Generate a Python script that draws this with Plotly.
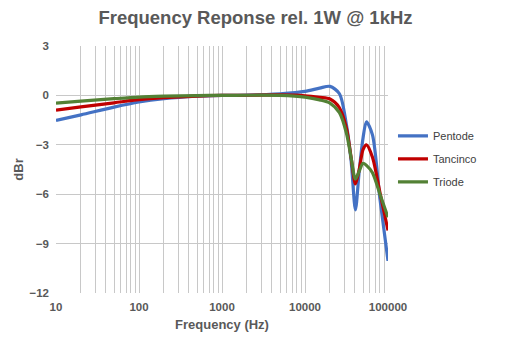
import plotly.graph_objects as go

# Frequency points (Hz) and level relative to 1 W @ 1 kHz (dBr)
freq_hz = [10, 20, 50, 100, 200, 500, 1000, 2000, 5000, 10000, 15000, 20000,
           26000, 31600, 36000, 40500, 45000, 50000, 55000, 65000, 80000, 100000]
pentode = [-1.52, -1.18, -0.71, -0.40, -0.20, -0.05, 0.0, 0.02, 0.10, 0.24, 0.44, 0.55,
           0.10, -1.8, -4.0, -6.95, -4.6, -2.6, -1.6, -2.4, -6.3, -10.05]
tancinco = [-0.90, -0.70, -0.45, -0.26, -0.14, -0.04, 0.0, 0.01, 0.03, -0.02, -0.12, -0.22,
            -0.75, -2.0, -3.8, -5.38, -4.5, -3.3, -3.0, -3.75, -5.9, -8.2]
triode = [-0.47, -0.35, -0.20, -0.10, -0.05, -0.01, 0.0, 0.01, 0.0, -0.10, -0.27, -0.47,
          -1.05, -2.3, -3.8, -5.08, -4.6, -4.12, -4.25, -4.7, -6.0, -7.4]

series_names = ["Pentode", "Tancinco", "Triode"]
series_values = [pentode, tancinco, triode]
series_colors = ["#4472C4", "#C00000", "#538135"]

x_tick_vals = [10, 100, 1000, 10000, 100000]
x_tick_text = ["10", "100", "1000", "10000", "100000"]
minor_vals = [m * 10 ** d for d in range(1, 5) for m in range(2, 10)]

fig = go.Figure()
for name, vals, col in zip(series_names, series_values, series_colors):
    fig.add_trace(go.Scatter(
        x=freq_hz, y=vals, name=name, mode="lines", legendgroup=name,
        line=dict(color=col, width=3.2, shape="spline", smoothing=0.8),
    ))

grid_col = "#C8C8C8"
fig.update_layout(
    width=511, height=343,
    margin=dict(l=56, r=123, t=46, b=50),
    paper_bgcolor="white", plot_bgcolor="white",
    font=dict(family="Liberation Sans, Arial, sans-serif", color="#595959"),
    title=dict(text="<b>Frequency Reponse rel. 1W @ 1kHz</b>",
               x=0.5, xanchor="center", y=0.948, yanchor="middle",
               font=dict(size=18.5, color="#595959")),
    legend=dict(x=1.015, y=0.695, xanchor="left", yanchor="top",
                font=dict(size=11, color="#404040"),
                traceorder="grouped", tracegroupgap=4,
                itemwidth=30, bgcolor="rgba(0,0,0,0)"),
    showlegend=True,
)
fig.update_xaxes(
    type="log", range=[1, 5],
    tickvals=x_tick_vals, ticktext=x_tick_text,
    tickfont=dict(size=11.5, color="#595959", weight="bold"),
    ticklabelstandoff=5,
    showgrid=True, gridcolor=grid_col, gridwidth=1,
    minor=dict(tickvals=minor_vals, showgrid=True, gridcolor=grid_col, gridwidth=1),
    zeroline=False, showline=False, ticks="", ticklen=0,
    title=dict(text="<b>Frequency (Hz)</b>", font=dict(size=13, color="#595959"), standoff=8),
)
fig.update_yaxes(
    range=[-12, 3], dtick=3, tick0=0,
    tickfont=dict(size=11.5, color="#595959", weight="bold"),
    ticklabelstandoff=6,
    showgrid=True, gridcolor=grid_col, gridwidth=1,
    zeroline=False, showline=False, ticks="",
    title=dict(text="<b>dBr</b>", font=dict(size=13, color="#595959"), standoff=2),
)

fig.write_html("out.html")
